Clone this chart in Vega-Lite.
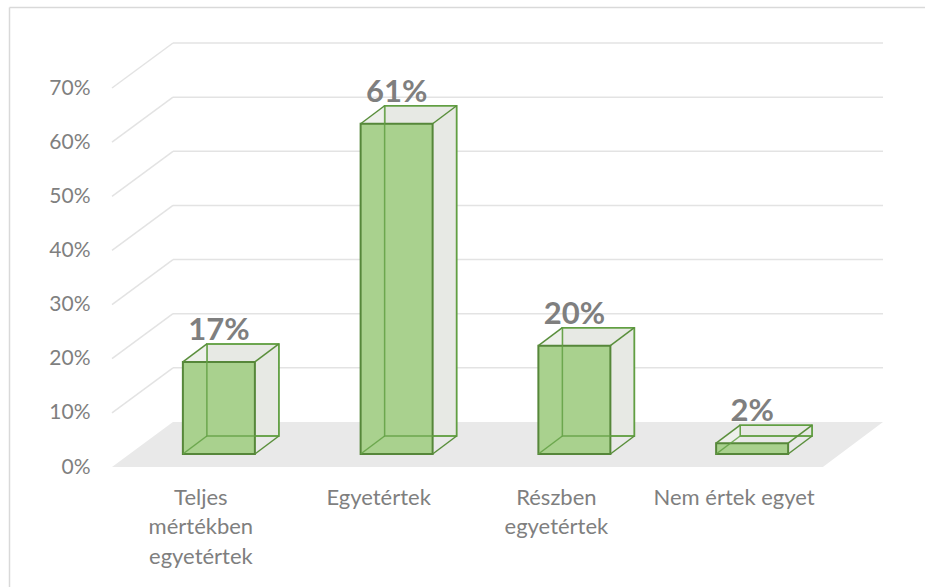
{
  "$schema": "https://vega.github.io/schema/vega-lite/v6.json",
  "width": 711,
  "height": 379,
  "autosize": {"type": "none"},
  "padding": {"left": 112, "top": 88, "right": 102, "bottom": 120},
  "background": "white",
  "config": {
    "view": {"stroke": null},
    "font": "Lato",
    "axis": {"domain": false, "ticks": false, "grid": false, "labelColor": "#7f7f7f", "labelFont": "Lato"},
    "axisX": {"labelFontSize": 22, "labelPadding": 20, "labelLineHeight": 29.5, "labelAngle": 0, "labelLimit": 300},
    "axisY": {"labelFontSize": 21, "labelPadding": 22}
  },
  "datasets": {
    "bars": [
      {"cat": "Teljes mértékben egyetértek", "v": 0.17},
      {"cat": "Egyetértek", "v": 0.61},
      {"cat": "Részben egyetértek", "v": 0.20},
      {"cat": "Nem értek egyet", "v": 0.02}
    ],
    "grid": [{"g": 0.1}, {"g": 0.2}, {"g": 0.3}, {"g": 0.4}, {"g": 0.5}, {"g": 0.6}, {"g": 0.7}],
    "floor": [{"f": 0}]
  },
  "layer": [
    {
      "data": {"name": "floor"},
      "mark": {"type": "point", "filled": true, "shape": "M -1 0.0584 L 0.844 0.0584 L 1 -0.0584 L -0.842 -0.0584 Z", "size": 594441, "color": "#e9e9e9", "opacity": 1, "strokeWidth": 0, "xOffset": 118.875, "yOffset": -22.5},
      "encoding": {
        "x": {"datum": "Egyetértek", "type": "nominal", "title": null,
              "scale": {"domain": ["Teljes mértékben egyetértek", "Egyetértek", "Részben egyetértek", "Nem értek egyet"], "paddingInner": 0, "paddingOuter": 0},
              "axis": {"title": null, "labelExpr": "datum.label == 'Nem értek egyet' ? datum.label : split(datum.label, ' ')"}},
        "y": {"datum": 0, "type": "quantitative", "title": null,
              "scale": {"domain": [0, 0.7], "nice": false, "zero": true},
              "axis": {"title": null, "values": [0, 0.1, 0.2, 0.3, 0.4, 0.5, 0.6, 0.7], "format": ".0%"}}
      }
    },
    {
      "data": {"name": "floor"},
      "mark": {"type": "rule", "color": "#d9d9d9", "strokeWidth": 1.5, "xOffset": -191.375, "x2Offset": 200, "yOffset": -80.5},
      "encoding": {
        "x": {"datum": "Teljes mértékben egyetértek", "type": "nominal", "title": null},
        "x2": {"datum": "Nem értek egyet"},
        "y": {"datum": 0.7, "type": "quantitative", "title": null}
      }
    },
    {
      "data": {"name": "floor"},
      "mark": {"type": "rule", "color": "#d9d9d9", "strokeWidth": 1.5, "xOffset": -191.375, "yOffset": -80.5, "y2Offset": 125},
      "encoding": {
        "x": {"datum": "Teljes mértékben egyetértek", "type": "nominal", "title": null},
        "y": {"datum": 0.7, "type": "quantitative", "title": null},
        "y2": {"datum": 0}
      }
    },
    {
      "data": {"name": "grid"},
      "mark": {"type": "rule", "color": "#e3e3e3", "strokeWidth": 1.5, "xOffset": -27.875, "x2Offset": 148.875, "yOffset": -45},
      "encoding": {
        "x": {"datum": "Teljes mértékben egyetértek", "type": "nominal", "title": null},
        "x2": {"datum": "Nem értek egyet"},
        "y": {"field": "g", "type": "quantitative", "title": null}
      }
    },
    {
      "data": {"name": "grid"},
      "mark": {"type": "rule", "color": "#e3e3e3", "strokeWidth": 1.5, "xOffset": -88.875, "x2Offset": -27.875, "y2Offset": -45},
      "encoding": {
        "x": {"datum": "Teljes mértékben egyetértek", "type": "nominal", "title": null},
        "x2": {"datum": "Teljes mértékben egyetértek"},
        "y": {"field": "g", "type": "quantitative", "title": null},
        "y2": {"field": "g"}
      }
    },
    {
      "data": {"name": "bars"},
      "mark": {"type": "bar", "width": 72, "xOffset": 42, "yOffset": -31, "y2Offset": -31, "fill": "#e7e9e4", "stroke": "#5e9b3e", "strokeWidth": 1.5},
      "encoding": {
        "x": {"field": "cat", "type": "nominal", "title": null},
        "y": {"field": "v", "type": "quantitative", "title": null},
        "y2": {"datum": 0}
      }
    },
    {
      "data": {"name": "bars"},
      "mark": {"type": "point", "filled": true, "shape": "M -1 0.75 L 1 -0.75 L 1 0.75 Z", "size": 576, "color": "#eef0eb", "opacity": 1, "strokeWidth": 0, "xOffset": -6, "yOffset": -22},
      "encoding": {
        "x": {"field": "cat", "type": "nominal", "title": null},
        "y": {"field": "v", "type": "quantitative", "title": null}
      }
    },
    {
      "data": {"name": "bars"},
      "mark": {"type": "bar", "width": 72, "xOffset": 18, "yOffset": -13, "y2Offset": -13, "fill": "#a9d18e", "stroke": "#56873a", "strokeWidth": 2},
      "encoding": {
        "x": {"field": "cat", "type": "nominal", "title": null},
        "y": {"field": "v", "type": "quantitative", "title": null},
        "y2": {"datum": 0}
      }
    },
    {
      "data": {"name": "bars"},
      "mark": {"type": "bar", "width": 72, "xOffset": 42, "yOffset": -31, "y2Offset": -31, "fill": null, "fillOpacity": 0, "stroke": "#62a043", "strokeWidth": 1.5, "strokeOpacity": 0.85},
      "encoding": {
        "x": {"field": "cat", "type": "nominal", "title": null},
        "y": {"field": "v", "type": "quantitative", "title": null},
        "y2": {"datum": 0}
      }
    },
    {
      "data": {"name": "bars"},
      "mark": {"type": "rule", "color": "#5a8f3c", "strokeWidth": 1.5, "xOffset": -18, "x2Offset": 6, "yOffset": -13, "y2Offset": -31},
      "encoding": {
        "x": {"field": "cat", "type": "nominal", "title": null},
        "x2": {"field": "cat"},
        "y": {"field": "v", "type": "quantitative", "title": null},
        "y2": {"field": "v"}
      }
    },
    {
      "data": {"name": "bars"},
      "mark": {"type": "rule", "color": "#5a8f3c", "strokeWidth": 1.5, "xOffset": 54, "x2Offset": 78, "yOffset": -13, "y2Offset": -31},
      "encoding": {
        "x": {"field": "cat", "type": "nominal", "title": null},
        "x2": {"field": "cat"},
        "y": {"field": "v", "type": "quantitative", "title": null},
        "y2": {"field": "v"}
      }
    },
    {
      "data": {"name": "bars"},
      "mark": {"type": "rule", "color": "#5a8f3c", "strokeWidth": 1.5, "xOffset": 54, "x2Offset": 78, "yOffset": -13, "y2Offset": -31},
      "encoding": {
        "x": {"field": "cat", "type": "nominal", "title": null},
        "x2": {"field": "cat"},
        "y": {"datum": 0, "type": "quantitative", "title": null},
        "y2": {"datum": 0}
      }
    },
    {
      "data": {"name": "bars"},
      "mark": {"type": "rule", "color": "#62a043", "strokeWidth": 1.5, "strokeOpacity": 0.85, "xOffset": -18, "x2Offset": 6, "yOffset": -13, "y2Offset": -31},
      "encoding": {
        "x": {"field": "cat", "type": "nominal", "title": null},
        "x2": {"field": "cat"},
        "y": {"datum": 0, "type": "quantitative", "title": null},
        "y2": {"datum": 0}
      }
    },
    {
      "data": {"name": "bars"},
      "mark": {"type": "text", "font": "Lato", "fontSize": 31, "fontWeight": "bold", "color": "#7f7f7f", "align": "center", "baseline": "alphabetic", "xOffset": 18, "yOffset": -35},
      "encoding": {
        "x": {"field": "cat", "type": "nominal", "title": null},
        "y": {"field": "v", "type": "quantitative", "title": null},
        "text": {"field": "v", "type": "quantitative", "format": ".0%"}
      }
    }
  ]
}
